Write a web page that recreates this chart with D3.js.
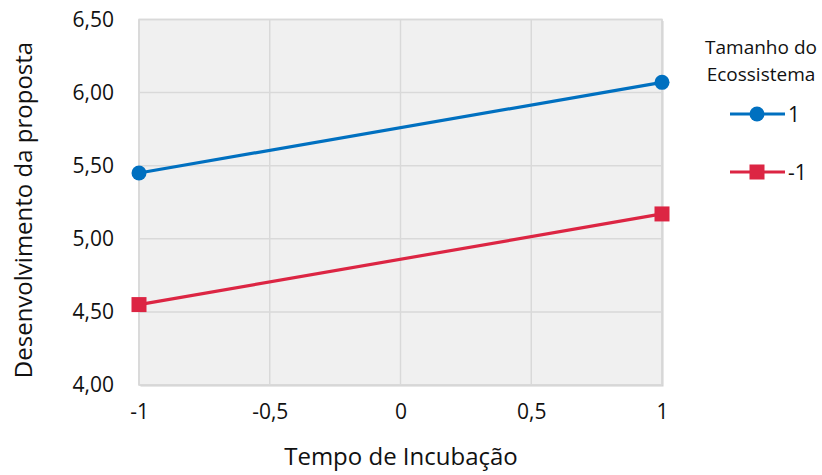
<!DOCTYPE html>
<html>
<head>
<meta charset="utf-8">
<script src="https://cdn.jsdelivr.net/npm/d3@7"></script>
<style>
  body { margin: 0; background: #fff; }
  text { font-family: "Open Sans", "Noto Sans", sans-serif; fill: #111; }
</style>
</head>
<body>
<svg id="chart" width="822" height="475"></svg>
<script>
// Interaction plot: proposal development vs incubation time, by ecosystem size
const xValues = [-1, 1];
const seriesNames = ["1", "-1"];
const seriesHigh = [5.45, 6.07];   // Tamanho do Ecossistema = 1
const seriesLow = [4.55, 5.17];    // Tamanho do Ecossistema = -1
const xTicks = [-1, -0.5, 0, 0.5, 1];
const yTicks = [4.0, 4.5, 5.0, 5.5, 6.0, 6.5];
const colors = ["#0070c0", "#dc2543"];

const svg = d3.select("#chart");
const m = { left: 139, right: 662, top: 19.5, bottom: 385 };

const x = d3.scaleLinear().domain([-1, 1]).range([m.left, m.right]);
const y = d3.scaleLinear().domain([4, 6.5]).range([m.bottom, m.top]);

const fmt = d3.format(".2f");
const comma = v => fmt(v).replace(".", ",");
const xFmt = v => (v === 0 ? "0" : String(v).replace(".", ","));

// plot background with soft edge shadow
svg.append("rect")
  .attr("x", m.left + 1.5).attr("y", m.top + 1.5)
  .attr("width", m.right - m.left).attr("height", m.bottom - m.top)
  .attr("fill", "#cfcfcf");
svg.append("rect")
  .attr("x", m.left).attr("y", m.top)
  .attr("width", m.right - m.left).attr("height", m.bottom - m.top)
  .attr("fill", "#f0f0f0").attr("stroke", "#d6d6d6").attr("stroke-width", 1.5);

// grid lines
svg.append("g").selectAll("line").data(yTicks).join("line")
  .attr("x1", m.left).attr("x2", m.right)
  .attr("y1", d => y(d)).attr("y2", d => y(d))
  .attr("stroke", "#d9d9d9").attr("stroke-width", 1.5);
svg.append("g").selectAll("line").data(xTicks).join("line")
  .attr("y1", m.top).attr("y2", m.bottom)
  .attr("x1", d => x(d)).attr("x2", d => x(d))
  .attr("stroke", "#d9d9d9").attr("stroke-width", 1.5);

// axes (labels only)
const yAxis = svg.append("g")
  .attr("transform", `translate(${m.left},0)`)
  .call(d3.axisLeft(y).tickValues(yTicks).tickFormat(comma).tickSize(0).tickPadding(25));
yAxis.select(".domain").remove();
yAxis.selectAll("text").attr("font-size", 21).attr("font-family", "Open Sans, sans-serif").attr("fill", "#111");

const xAxis = svg.append("g")
  .attr("transform", `translate(0,${m.bottom})`)
  .call(d3.axisBottom(x).tickValues(xTicks).tickFormat(xFmt).tickSize(0).tickPadding(19));
xAxis.select(".domain").remove();
xAxis.selectAll("text").attr("font-size", 21).attr("font-family", "Open Sans, sans-serif").attr("fill", "#111");

// axis titles
svg.append("text")
  .attr("x", 401).attr("y", 465)
  .attr("text-anchor", "middle").attr("font-size", 24)
  .text("Tempo de Incubação");
svg.append("text")
  .attr("transform", "translate(32,210) rotate(-90)")
  .attr("text-anchor", "middle").attr("font-size", 24)
  .text("Desenvolvimento da proposta");

// series
const series = [seriesHigh, seriesLow];
const line = d3.line().x((d, i) => x(xValues[i])).y(d => y(d));

series.forEach((vals, k) => {
  svg.append("path")
    .attr("d", line(vals))
    .attr("fill", "none").attr("stroke", colors[k]).attr("stroke-width", 3.2);
  const g = svg.append("g");
  vals.forEach((v, i) => {
    if (k === 0) {
      g.append("circle").attr("cx", x(xValues[i])).attr("cy", y(v)).attr("r", 7.5).attr("fill", colors[k]);
    } else {
      g.append("rect").attr("x", x(xValues[i]) - 7.5).attr("y", y(v) - 7.5)
        .attr("width", 15).attr("height", 15).attr("fill", colors[k]);
    }
  });
});

// legend
const lg = svg.append("g");
lg.append("text").attr("x", 761).attr("y", 54).attr("text-anchor", "middle").attr("font-size", 19).text("Tamanho do");
lg.append("text").attr("x", 761).attr("y", 81).attr("text-anchor", "middle").attr("font-size", 19).text("Ecossistema");
const legendY = [114, 172];
seriesNames.forEach((name, k) => {
  const ly = legendY[k];
  lg.append("line").attr("x1", 730).attr("x2", 785).attr("y1", ly).attr("y2", ly)
    .attr("stroke", colors[k]).attr("stroke-width", 3.2);
  if (k === 0) {
    lg.append("circle").attr("cx", 757).attr("cy", ly).attr("r", 7.5).attr("fill", colors[k]);
  } else {
    lg.append("rect").attr("x", 757 - 7.5).attr("y", ly - 7.5).attr("width", 15).attr("height", 15).attr("fill", colors[k]);
  }
  lg.append("text").attr("x", 788).attr("y", ly + 7.5).attr("font-size", 21).text(name);
});
</script>
</body>
</html>
